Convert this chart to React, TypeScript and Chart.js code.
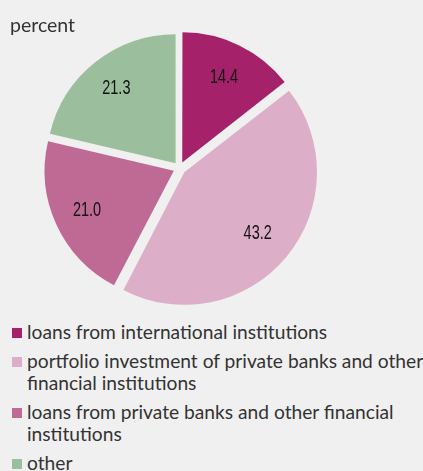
import React, { useEffect, useRef } from "react";
import { Chart, registerables } from "chart.js";

Chart.register(...registerables);

// ---- data ----
const categories: string[][] = [
  ["loans from international institutions"],
  ["portfolio investment of private banks and other", "financial institutions"],
  ["loans from private banks and other financial", "institutions"],
  ["other"],
];
const shares: number[] = [14.4, 43.2, 21.0, 21.3];
const sliceColors: string[] = ["#a5216a", "#ddaec7", "#bf6a94", "#9bbf9c"];
const unitLabel = "percent";

// ---- styles ----
const BG = "#f0f0f0";
const TEXT = "#333333";
const LEGEND_FONT = "Lato, 'Open Sans', sans-serif";
const NUM_FONT = "'Liberation Sans', Arial, sans-serif";

const sliceLabels = {
  id: "sliceLabels",
  afterDatasetsDraw(chart: any) {
    const ctx = chart.ctx as CanvasRenderingContext2D;
    const meta = chart.getDatasetMeta(0);
    meta.data.forEach((arc: any, i: number) => {
      const { x, y, startAngle, endAngle, outerRadius } = arc.getProps(
        ["x", "y", "startAngle", "endAngle", "outerRadius"],
        true
      );
      const mid = (startAngle + endAngle) / 2;
      const shift = (arc.options.offset || 0) / 4;
      const d = shift + outerRadius * 0.74;
      ctx.save();
      ctx.translate(x + Math.cos(mid) * d, y + Math.sin(mid) * d);
      ctx.scale(0.69, 1);
      ctx.font = `21px ${NUM_FONT}`;
      ctx.fillStyle = "#111111";
      ctx.textAlign = "center";
      ctx.textBaseline = "middle";
      ctx.fillText(shares[i].toFixed(1), 0, 0);
      ctx.restore();
    });
  },
};

function PieChart() {
  const ref = useRef<HTMLCanvasElement | null>(null);
  useEffect(() => {
    if (!ref.current) return;
    const chart = new Chart(ref.current, {
      type: "pie",
      data: {
        labels: categories,
        datasets: [
          {
            data: shares,
            backgroundColor: sliceColors,
            borderWidth: 0,
            offset: 25,
            radius: 129,
          } as any,
        ],
      },
      options: {
        responsive: false,
        animation: false,
        events: [],
        layout: { padding: { left: 10, right: 74, top: 0, bottom: 21 } },
        plugins: {
          legend: { display: false },
          tooltip: { enabled: false },
          title: {
            display: true,
            text: unitLabel,
            align: "start",
            color: TEXT,
            font: { family: LEGEND_FONT, size: 19.5, weight: "normal" },
            padding: { top: 14, bottom: 0 },
          },
        },
      } as any,
      plugins: [sliceLabels],
    });
    return () => chart.destroy();
  }, []);
  return <canvas ref={ref} width={423} height={320} style={{ display: "block" }} />;
}

export default function App() {
  return (
    <div
      style={{
        position: "fixed",
        left: 0,
        top: 0,
        width: 423,
        height: 471,
        background: BG,
        overflow: "hidden",
      }}
    >
      <PieChart />
      <div style={{ position: "absolute", left: 0, top: 320.5, width: 423 }}>
        {categories.map((lines, i) => (
          <div
            key={i}
            style={{
              position: "relative",
              paddingLeft: 27,
              marginBottom: 7,
              fontFamily: LEGEND_FONT,
              fontSize: 19.2,
              lineHeight: "22px",
              color: TEXT,
              whiteSpace: "nowrap",
            }}
          >
            <span
              style={{
                position: "absolute",
                left: 12,
                top: 7,
                width: 10,
                height: 10,
                background: sliceColors[i],
              }}
            />
            {lines.map((l, j) => (
              <div key={j}>{l}</div>
            ))}
          </div>
        ))}
      </div>
    </div>
  );
}
